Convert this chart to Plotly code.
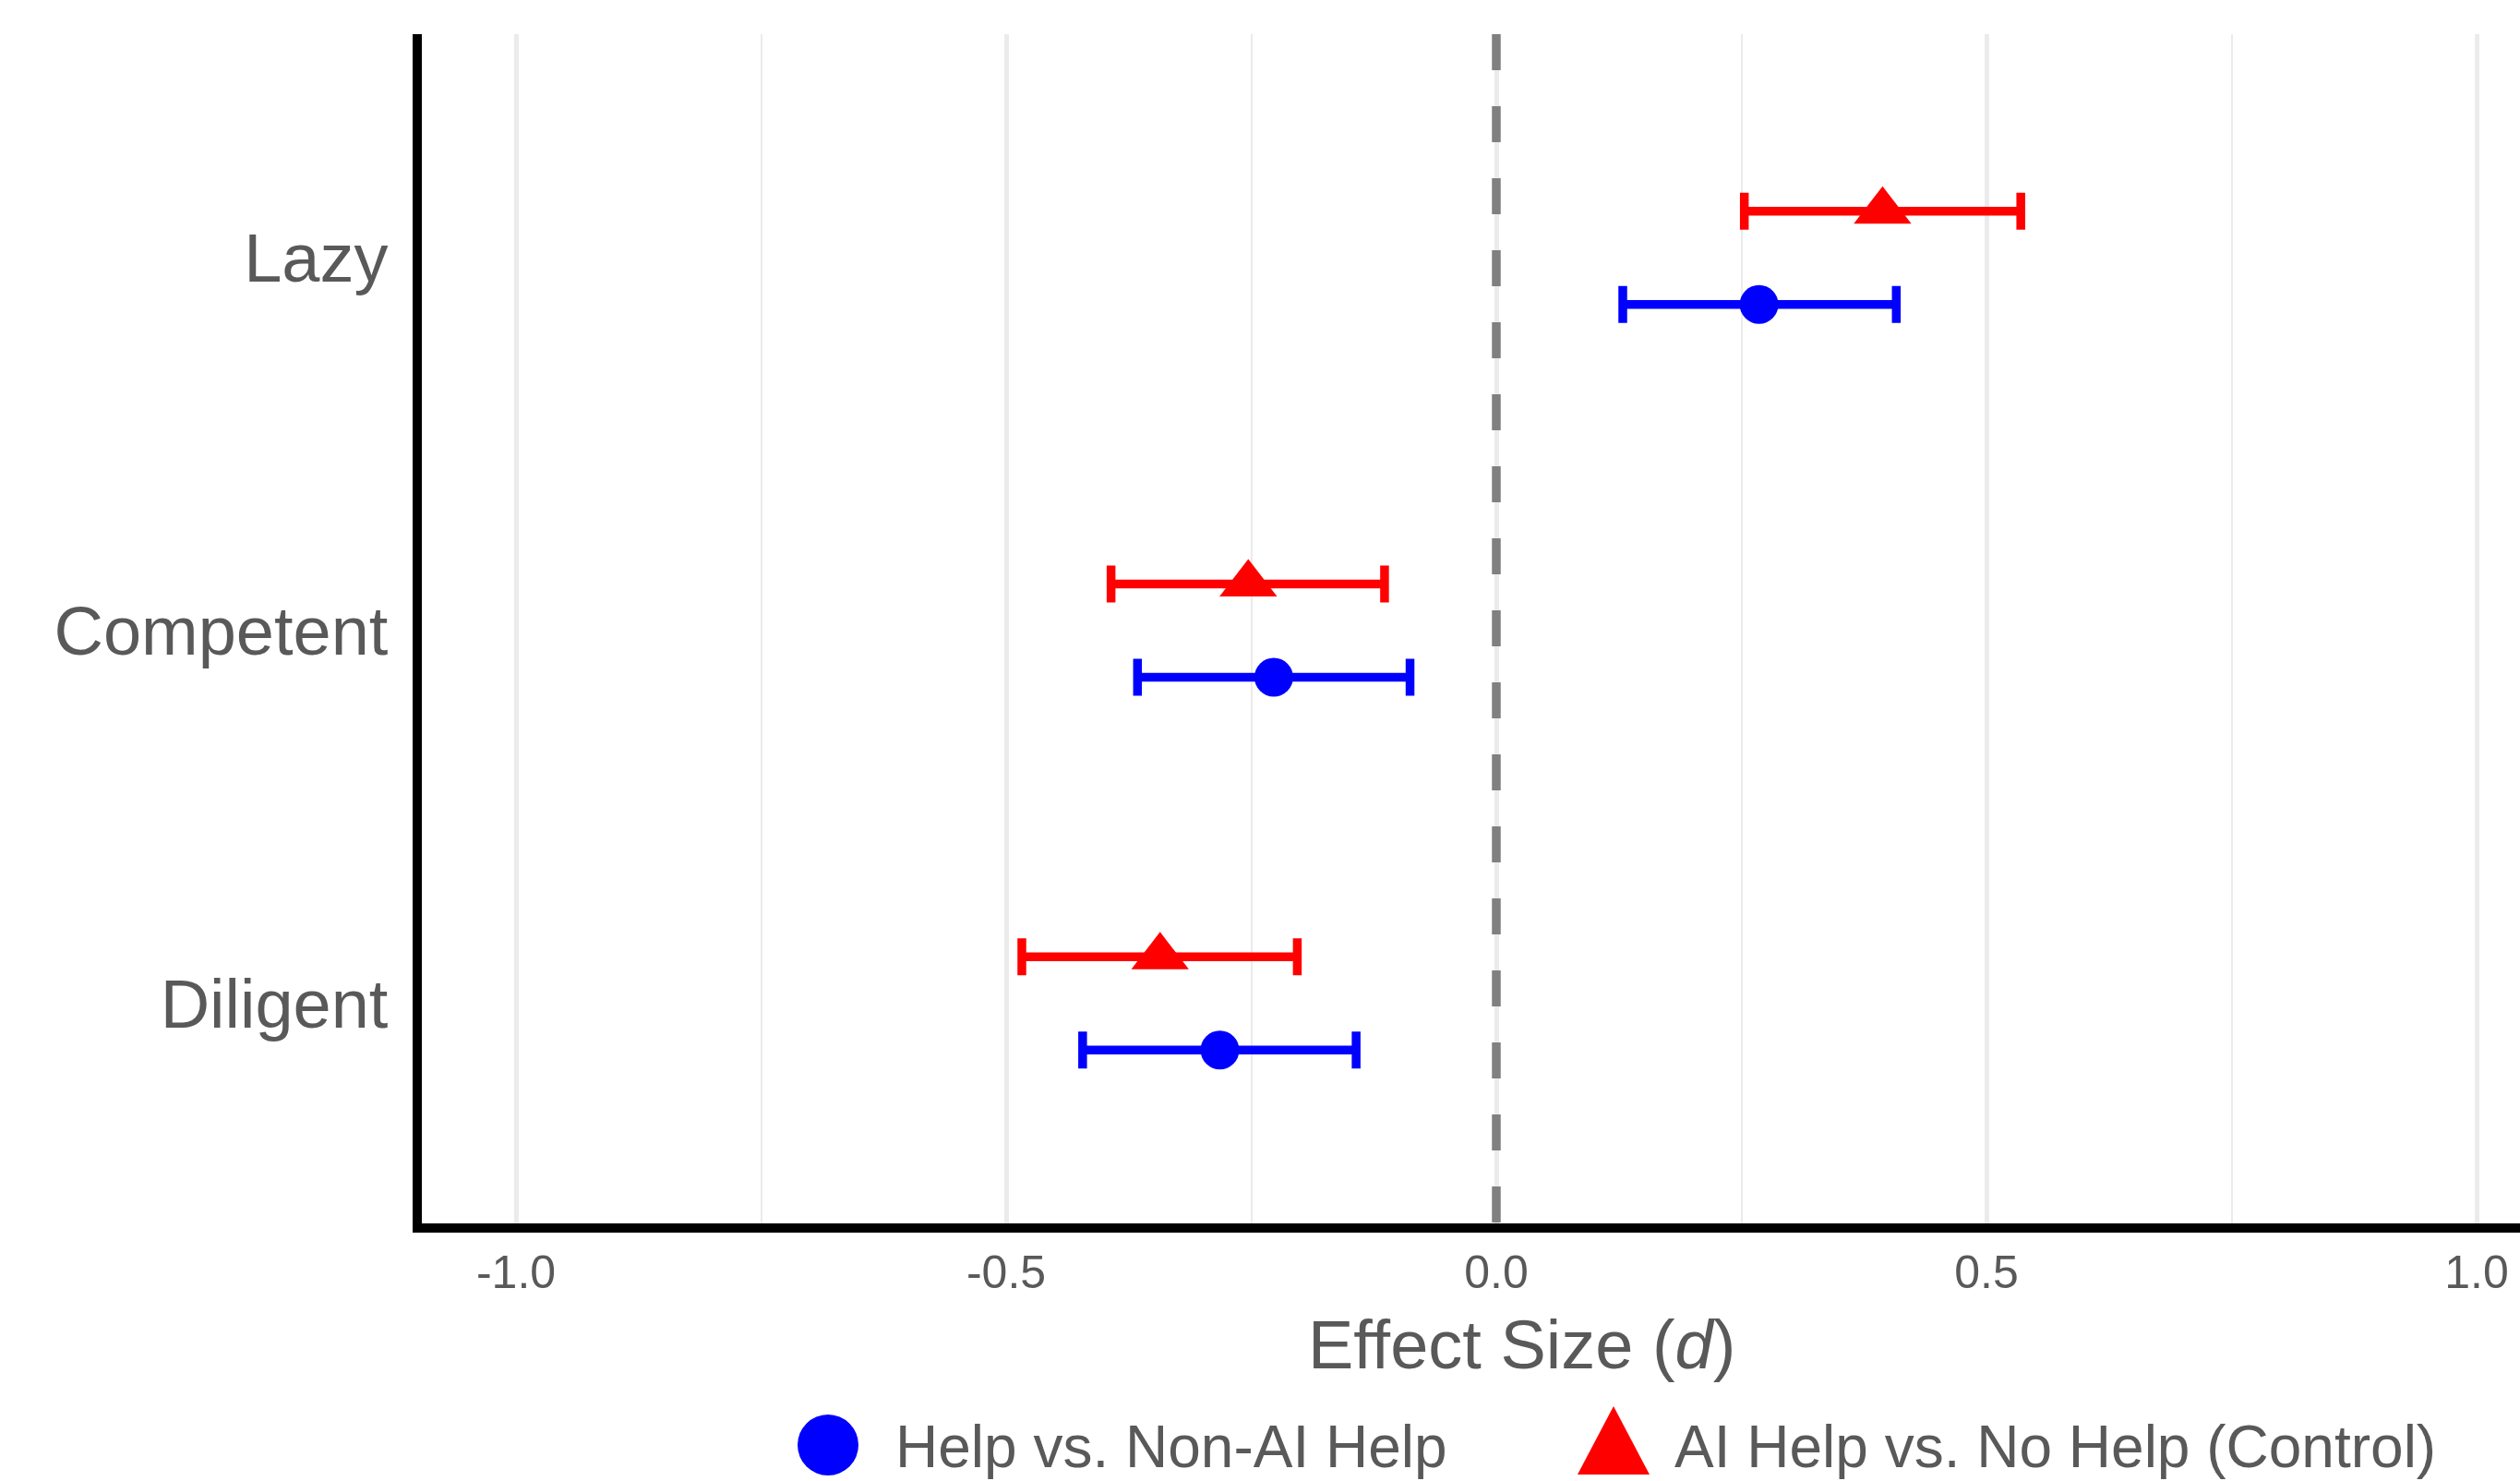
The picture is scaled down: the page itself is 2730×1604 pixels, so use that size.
import plotly.graph_objects as go

# ---------------- data ----------------
categories = ["Diligent", "Competent", "Lazy"]
series_names = ["Help vs. Non-AI Help", "AI Help vs. No Help (Control)"]

blue_est = [-0.282, -0.227, 0.268]
blue_lo = [-0.422, -0.366, 0.129]
blue_hi = [-0.143, -0.088, 0.408]

red_est = [-0.343, -0.253, 0.394]
red_lo = [-0.484, -0.393, 0.253]
red_hi = [-0.203, -0.114, 0.535]

x_ticks = [-1.0, -0.5, 0.0, 0.5, 1.0]
x_tick_labels = ["-1.0", "-0.5", "0.0", "0.5", "1.0"]
x_minor_ticks = [-0.75, -0.25, 0.25, 0.75]
x_title = "Effect Size (<i>d</i>)"

# ---------------- layout constants ----------------
W, H = 2730, 1604
L, R, T, B = 457, 0, 37, 279
PW, PH = W - L - R, H - T - B
TEXT = "#595959"
FONT = "Liberation Sans, Arial, Helvetica, sans-serif"


def px_x(px):
    return (px - L) / PW


def px_y(py):
    return (H - B - py) / PH


fig = go.Figure()

pos = list(range(1, len(categories) + 1))
dodge = 0.125
series = [
    (series_names[0], blue_est, blue_lo, blue_hi, "#0000ff", "circle", 42, -dodge),
    (series_names[1], red_est, red_lo, red_hi, "#ff0000", "triangle-up", 54, dodge),
]
for name, est, lo, hi, color, symbol, size, off in series:
    fig.add_trace(go.Scatter(
        x=est,
        y=[p + off for p in pos],
        mode="markers",
        name=name,
        showlegend=False,
        marker=dict(color=color, symbol=symbol, size=size, line=dict(width=0)),
        error_x=dict(
            type="data", symmetric=False,
            array=[h - e for h, e in zip(hi, est)],
            arrayminus=[e - l for e, l in zip(est, lo)],
            color=color, thickness=9.5, width=20,
        ),
    ))

# dashed reference line at 0
fig.add_shape(type="line", xref="x", yref="paper", x0=0, x1=0, y0=1, y1=0,
              line=dict(color="#808080", width=9.5, dash="39px,39px"))

# ---------------- manual legend (large keys) ----------------
fig.add_shape(type="circle", xref="paper", yref="paper",
              x0=px_x(864), x1=px_x(930), y0=px_y(1598), y1=px_y(1532),
              fillcolor="#0000ff", line=dict(width=0))
tri = "M {:.5f} {:.5f} L {:.5f} {:.5f} L {:.5f} {:.5f} Z".format(
    px_x(1748), px_y(1523), px_x(1709), px_y(1597), px_x(1787), px_y(1597))
fig.add_shape(type="path", xref="paper", yref="paper", path=tri,
              fillcolor="#ff0000", line=dict(width=0))
for txt, xpx in [(series_names[0], 968), (series_names[1], 1812)]:
    fig.add_annotation(text=txt, xref="paper", yref="paper",
                       x=px_x(xpx), y=px_y(1567), xanchor="left", yanchor="middle",
                       showarrow=False, font=dict(family=FONT, size=64, color=TEXT))

# x-axis title (centred on the full, partly cropped panel as in the reference)
fig.add_annotation(text=x_title, xref="paper", yref="paper",
                   x=px_x(1648), y=px_y(1456), xanchor="center", yanchor="middle",
                   showarrow=False, font=dict(family=FONT, size=74, color=TEXT))

fig.update_layout(
    width=W, height=H,
    margin=dict(l=L, r=R, t=T, b=B, pad=0),
    paper_bgcolor="white", plot_bgcolor="white",
    font=dict(family=FONT, color=TEXT),
    showlegend=False,
)
fig.update_xaxes(
    range=[-(1621 - L) / 1062, (W - 1621) / 1062],
    tickvals=x_ticks, ticktext=x_tick_labels,
    tickfont=dict(family=FONT, size=50, color=TEXT),
    ticks="", ticklabelstandoff=0,
    showgrid=True, gridcolor="#ebebeb", gridwidth=4.5,
    minor=dict(tickvals=x_minor_ticks, showgrid=True, gridcolor="#ebebeb", gridwidth=2.2, ticks=""),
    zeroline=False,
    showline=True, linecolor="black", linewidth=9.5,
)
fig.update_yaxes(
    range=[0.41, 3.6],
    tickvals=pos, ticktext=categories,
    tickfont=dict(family=FONT, size=74, color=TEXT),
    ticks="", ticklabelstandoff=12,
    showgrid=False, zeroline=False,
    showline=True, linecolor="black", linewidth=9.5,
)

fig.write_html("out.html", config={"displayModeBar": False},
               post_script="document.body.style.margin='0';document.body.style.overflow='hidden';")
